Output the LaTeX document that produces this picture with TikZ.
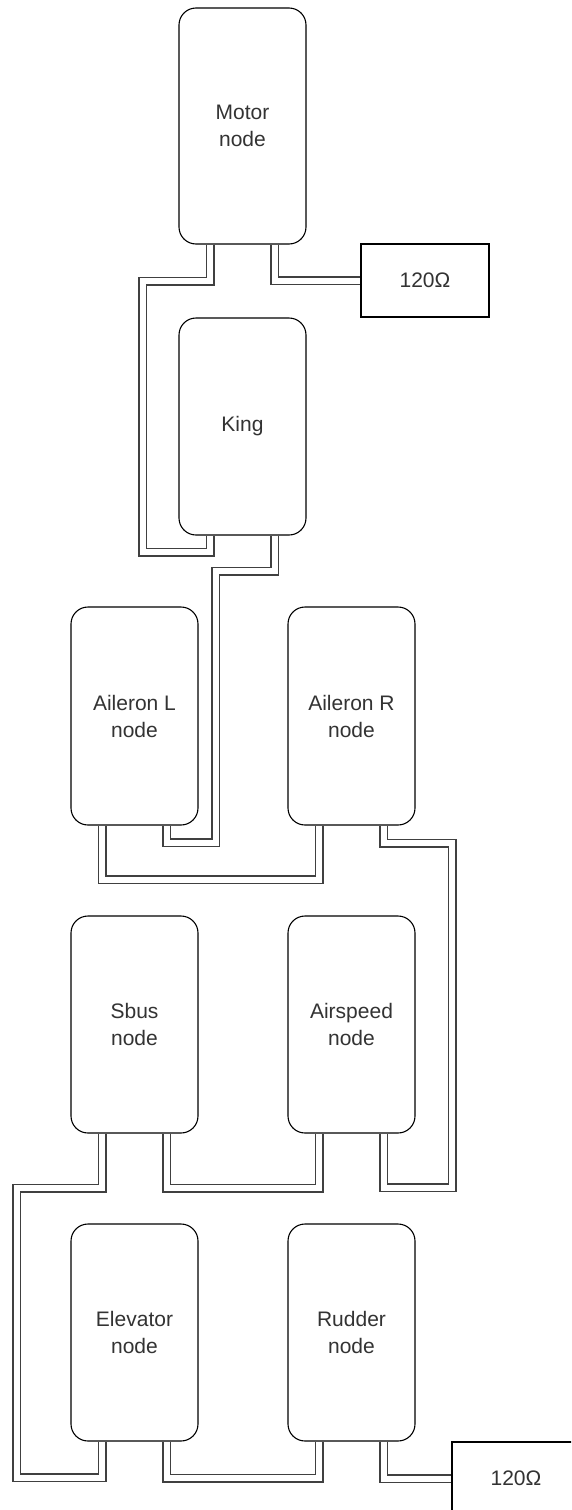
\documentclass[tikz,border=0pt]{standalone}
\usepackage{fontspec}
\setmainfont{Liberation Sans}
\usetikzlibrary{calc,backgrounds}
\definecolor{txt}{HTML}{333333}
\begin{document}
\begin{tikzpicture}[x=1pt,y=-1pt,
  unit/.style={draw=black, line width=1.1pt, fill=white, rounded corners=17pt,
    minimum width=127pt, minimum height=217pt, inner sep=0pt, align=center,
    text=txt, font=\fontsize{21}{27}\selectfont},
  res/.style={draw=black, line width=1.1pt, fill=white, minimum width=128pt,
    minimum height=73pt, inner sep=0pt, text=txt, font=\fontsize{21}{27}\selectfont},
  link/.style={draw=black!75, line width=1.5pt, double=white, double distance=6pt}]
\useasboundingbox (0,0) rectangle (571,1510);
\clip (0,0) rectangle (571,1510);

\node[unit, minimum height=236pt] (motor) at (242.5,126) {Motor\\node};
\node[unit] (king) at (242.5,426.5) {King};
\node[res] (r1) at (425,280.5) {120Ω};
\node[unit, minimum height=218pt] (ail) at (134.5,716) {Aileron L\\node};
\node[unit, minimum height=218pt] (air) at (351.5,716) {Aileron R\\node};
\node[unit] (sbus) at (134.5,1024.5) {Sbus\\node};
\node[unit] (aspd) at (351.5,1024.5) {Airspeed\\node};
\node[unit] (elev) at (134.5,1332.5) {Elevator\\node};
\node[unit] (rud) at (351.5,1332.5) {Rudder\\node};
\node[res] (r2) at (516,1478.5) {120Ω};

\foreach \n in {motor,king,ail,air,sbus,aspd,elev,rud}{
  \coordinate (\n L) at ($(\n.south west)!0.25!(\n.south east)$);
  \coordinate (\n R) at ($(\n.south west)!0.75!(\n.south east)$);
}

\begin{pgfonlayer}{background}
\draw[link] (motorL) -- ++(0,36.5) -| (142.5,552) -| (kingL);
\draw[link] (motorR) |- (r1.west);
\draw[link] (kingR) -- ++(0,35.5) -| (215.5,842.5) -| (ailR);
\draw[link] (ailL) -- ++(0,54) -| (airL);
\draw[link] (airR) -- ++(0,17.5) -| (452,1187.5) -| (aspdR);
\draw[link] (sbusL) -- ++(0,54.5) -| (16.5,1477.5) -| (elevL);
\draw[link] (sbusR) -- ++(0,54.5) -| (aspdL);
\draw[link] (elevR) -- ++(0,36.5) -| (rudL);
\draw[link] (rudR) |- (r2.west);
\end{pgfonlayer}
\end{tikzpicture}
\end{document}
